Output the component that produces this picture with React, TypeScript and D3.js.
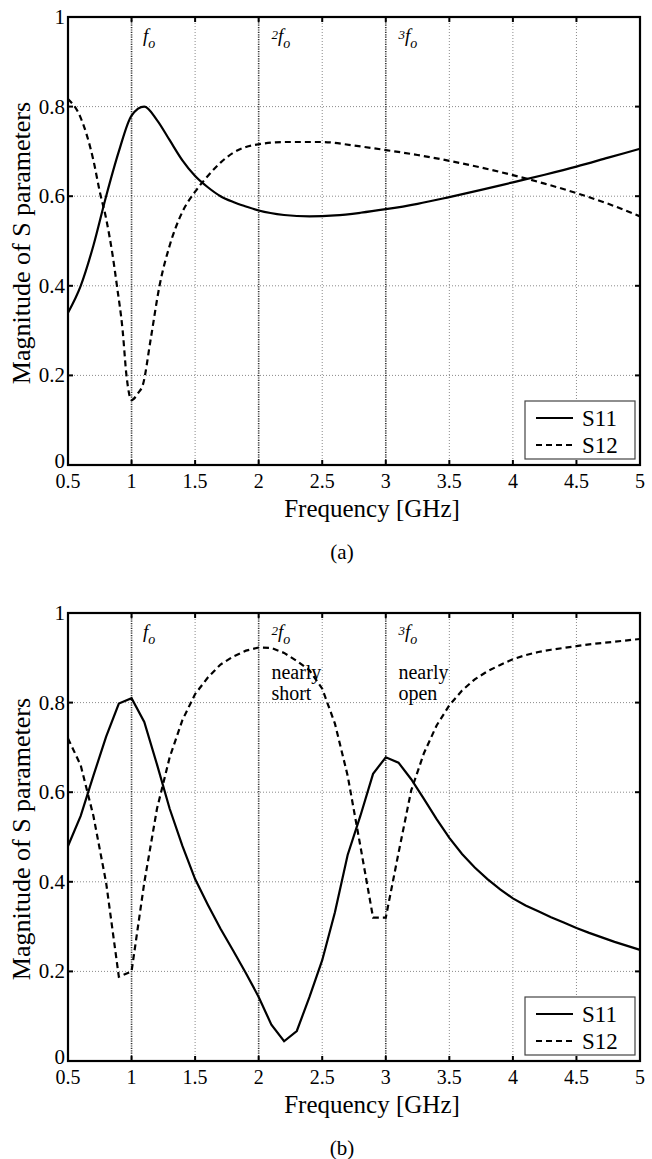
import React, { useRef, useEffect } from "react";
import * as d3 from "d3";

/* ---- chart (a) data ---- */
const freqA11 = [0.5, 0.6, 0.7, 0.8, 0.9, 1.0, 1.1, 1.2, 1.3, 1.4, 1.5, 1.6, 1.7, 1.8, 1.9, 2.0, 2.2, 2.4, 2.6, 2.8, 3.0, 3.25, 3.5, 3.75, 4.0, 4.25, 4.5, 4.75, 5.0];
const s11A = [0.34, 0.40, 0.49, 0.60, 0.70, 0.78, 0.80, 0.77, 0.725, 0.68, 0.645, 0.62, 0.60, 0.587, 0.577, 0.568, 0.558, 0.555, 0.557, 0.563, 0.571, 0.583, 0.598, 0.614, 0.631, 0.648, 0.666, 0.686, 0.706];
const freqA12 = [0.5, 0.6, 0.7, 0.75, 0.8, 0.85, 0.885, 0.93, 0.96, 1.0, 1.05, 1.09, 1.15, 1.22, 1.3, 1.4, 1.5, 1.6, 1.7, 1.8, 1.9, 2.0, 2.2, 2.5, 2.75, 3.0, 3.25, 3.5, 3.75, 4.0, 4.25, 4.5, 4.75, 5.0];
const s12A = [0.817, 0.775, 0.68, 0.61, 0.55, 0.47, 0.40, 0.30, 0.20, 0.145, 0.16, 0.18, 0.28, 0.40, 0.49, 0.565, 0.61, 0.645, 0.675, 0.697, 0.71, 0.716, 0.721, 0.721, 0.713, 0.703, 0.692, 0.679, 0.664, 0.647, 0.628, 0.607, 0.583, 0.555];

/* ---- chart (b) data ---- */
const freqB = [0.5, 0.6, 0.7, 0.8, 0.9, 1.0, 1.1, 1.2, 1.3, 1.4, 1.5, 1.6, 1.7, 1.8, 1.9, 2.0, 2.1, 2.2, 2.3, 2.4, 2.5, 2.6, 2.7, 2.8, 2.9, 3.0, 3.1, 3.2, 3.3, 3.4, 3.5, 3.6, 3.7, 3.8, 3.9, 4.0, 4.1, 4.2, 4.3, 4.4, 4.5, 4.6, 4.7, 4.8, 4.9, 5.0];
const s11B = [0.48, 0.547, 0.637, 0.724, 0.798, 0.81, 0.757, 0.662, 0.563, 0.48, 0.406, 0.349, 0.295, 0.246, 0.196, 0.143, 0.081, 0.044, 0.067, 0.143, 0.225, 0.332, 0.46, 0.547, 0.641, 0.678, 0.666, 0.629, 0.585, 0.54, 0.498, 0.462, 0.432, 0.406, 0.383, 0.363, 0.347, 0.334, 0.321, 0.309, 0.297, 0.286, 0.276, 0.266, 0.257, 0.248];
const s12B = [0.72, 0.66, 0.547, 0.398, 0.188, 0.20, 0.398, 0.563, 0.678, 0.761, 0.819, 0.856, 0.885, 0.903, 0.916, 0.923, 0.922, 0.911, 0.893, 0.872, 0.831, 0.753, 0.637, 0.48, 0.32, 0.32, 0.464, 0.604, 0.687, 0.749, 0.794, 0.827, 0.852, 0.87, 0.884, 0.897, 0.906, 0.913, 0.918, 0.922, 0.926, 0.93, 0.933, 0.936, 0.939, 0.942];

/* ---- axes ---- */
const xTicks = [0.5, 1, 1.5, 2, 2.5, 3, 3.5, 4, 4.5, 5];
const yTicks = [0, 0.2, 0.4, 0.6, 0.8, 1];
const harmonics = [1, 2, 3];
const harmonicLabels = ["", "2", "3"];
const legendNames = ["S11", "S12"];
const xLabel = "Frequency [GHz]";
const yLabel = "Magnitude of S parameters";

const W = 652;
const H = 1159;
const serif = "Liberation Serif, Times New Roman, DejaVu Serif, serif";

const charts = [
  {
    top: 17,
    caption: "(a)",
    smooth: true,
    series: [
      { x: freqA11, y: s11A, dash: null },
      { x: freqA12, y: s12A, dash: "6,4" },
    ],
    notes: [],
  },
  {
    top: 613,
    caption: "(b)",
    smooth: false,
    series: [
      { x: freqB, y: s11B, dash: null },
      { x: freqB, y: s12B, dash: "6,4" },
    ],
    notes: [
      { f: 2.1, lines: ["nearly", "short"] },
      { f: 3.1, lines: ["nearly", "open"] },
    ],
  },
];

const Chart = () => {
  const svgRef = useRef(null);

  const draw = () => {
    const root = d3.select(svgRef.current);
    root.selectAll("*").remove();
    root.append("rect").attr("width", W).attr("height", H).attr("fill", "#fff");

    const left = 68;
    const right = 640;
    const plotH = 448;

    charts.forEach((c) => {
      const x = d3.scaleLinear().domain([0.5, 5]).range([left, right]);
      const y = d3.scaleLinear().domain([0, 1]).range([c.top + plotH, c.top]);
      const g = root.append("g").attr("font-family", serif);

      /* grid */
      g.selectAll(".gx")
        .data(xTicks.filter((t) => t > 0.5 && t < 5 && !harmonics.includes(t)))
        .enter()
        .append("line")
        .attr("x1", (d) => x(d))
        .attr("x2", (d) => x(d))
        .attr("y1", y(0))
        .attr("y2", y(1))
        .attr("stroke", "#8a8a8a")
        .attr("stroke-width", 1)
        .attr("stroke-dasharray", "1,2");
      g.selectAll(".gy")
        .data(yTicks.filter((t) => t > 0 && t < 1))
        .enter()
        .append("line")
        .attr("x1", x(0.5))
        .attr("x2", x(5))
        .attr("y1", (d) => y(d))
        .attr("y2", (d) => y(d))
        .attr("stroke", "#8a8a8a")
        .attr("stroke-width", 1)
        .attr("stroke-dasharray", "1,2");

      /* harmonic marker lines */
      g.selectAll(".hm")
        .data(harmonics)
        .enter()
        .append("line")
        .attr("x1", (d) => x(d))
        .attr("x2", (d) => x(d))
        .attr("y1", y(0))
        .attr("y2", y(1))
        .attr("stroke", "#333")
        .attr("stroke-width", 1.6)
        .attr("stroke-dasharray", "1.2,1.2");

      /* curves */
      const line = d3
        .line()
        .x((d) => x(d[0]))
        .y((d) => y(d[1]))
        .curve(c.smooth ? d3.curveMonotoneX : d3.curveLinear);
      c.series.forEach((s) => {
        g.append("path")
          .datum(s.x.map((f, i) => [f, s.y[i]]))
          .attr("fill", "none")
          .attr("stroke", "#000")
          .attr("stroke-width", 2.2)
          .attr("stroke-dasharray", s.dash)
          .attr("d", line);
      });

      /* frame + inward ticks */
      g.append("rect")
        .attr("x", x(0.5))
        .attr("y", y(1))
        .attr("width", x(5) - x(0.5))
        .attr("height", y(0) - y(1))
        .attr("fill", "none")
        .attr("stroke", "#000")
        .attr("stroke-width", 2.2);
      xTicks.forEach((t) => {
        g.append("line").attr("x1", x(t)).attr("x2", x(t)).attr("y1", y(0)).attr("y2", y(0) - 5).attr("stroke", "#000").attr("stroke-width", 2);
        g.append("line").attr("x1", x(t)).attr("x2", x(t)).attr("y1", y(1)).attr("y2", y(1) + 5).attr("stroke", "#000").attr("stroke-width", 2);
        g.append("text")
          .attr("x", x(t))
          .attr("y", y(0) + 23)
          .attr("text-anchor", "middle")
          .attr("font-size", 20)
          .text(String(t));
      });
      yTicks.forEach((t) => {
        g.append("line").attr("x1", x(0.5)).attr("x2", x(0.5) + 5).attr("y1", y(t)).attr("y2", y(t)).attr("stroke", "#000").attr("stroke-width", 2);
        g.append("line").attr("x1", x(5)).attr("x2", x(5) - 5).attr("y1", y(t)).attr("y2", y(t)).attr("stroke", "#000").attr("stroke-width", 2);
        g.append("text")
          .attr("x", x(0.5) - 3)
          .attr("y", y(t) + (t === 0 ? 3 : 7))
          .attr("text-anchor", "end")
          .attr("font-size", 21)
          .text(String(t));
      });

      /* harmonic labels */
      harmonics.forEach((h, i) => {
        const t = g
          .append("text")
          .attr("x", x(h + 0.09 + (i > 0 ? 0.01 : 0)))
          .attr("y", y(0.944))
          .attr("font-style", "italic");
        if (harmonicLabels[i]) {
          t.append("tspan").attr("dy", -3).attr("font-size", 13).text(harmonicLabels[i]);
          t.append("tspan").attr("dy", 3).attr("font-size", 19).text("f");
        } else {
          t.append("tspan").attr("font-size", 19).text("f");
        }
        t.append("tspan").attr("dy", 6).attr("font-size", 14).text("o");
      });

      /* notes */
      c.notes.forEach((n) => {
        n.lines.forEach((s, k) => {
          g.append("text")
            .attr("x", x(n.f))
            .attr("y", y(0.853) + k * 21)
            .attr("font-size", 20)
            .text(s);
        });
      });

      /* legend */
      const lx = 525;
      const ly = c.top + 384;
      g.append("rect")
        .attr("x", lx)
        .attr("y", ly)
        .attr("width", 110)
        .attr("height", 58)
        .attr("fill", "#fff")
        .attr("stroke", "#444")
        .attr("stroke-width", 1.2);
      legendNames.forEach((name, i) => {
        const yy = ly + 17 + i * 27;
        g.append("line")
          .attr("x1", lx + 11)
          .attr("x2", lx + 48)
          .attr("y1", yy)
          .attr("y2", yy)
          .attr("stroke", "#000")
          .attr("stroke-width", 2.2)
          .attr("stroke-dasharray", c.series[i].dash);
        g.append("text")
          .attr("x", lx + 57)
          .attr("y", yy + 8)
          .attr("font-size", 23)
          .text(name);
      });

      /* axis titles */
      g.append("text")
        .attr("x", (left + right) / 2 + 18)
        .attr("y", y(0) + 52)
        .attr("text-anchor", "middle")
        .attr("font-size", 25)
        .text(xLabel);
      g.append("text")
        .attr("transform", `translate(30, ${c.top + 226}) rotate(-90)`)
        .attr("text-anchor", "middle")
        .attr("font-size", 26)
        .text(yLabel);
      g.append("text")
        .attr("x", 342)
        .attr("y", y(0) + 94)
        .attr("text-anchor", "middle")
        .attr("font-size", 21)
        .text(c.caption);
    });
  };

  useEffect(() => {
    draw();
  }, []);

  return <svg ref={svgRef} width={W} height={H} style={{ position: "absolute", left: 0, top: 0 }} />;
};

export default function App() {
  return <Chart />;
}
